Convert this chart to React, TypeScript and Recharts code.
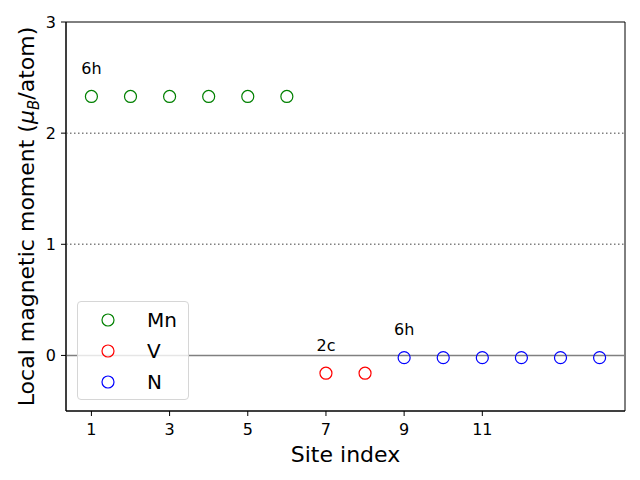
import React from "react";
import {
  ReferenceArea,
  ReferenceLine,
  Scatter,
  ScatterChart,
  XAxis,
  YAxis,
} from "recharts";

// site indices and local moments (mu_B/atom)
const mnSites = [1, 2, 3, 4, 5, 6];
const mnMoments = [2.33, 2.33, 2.33, 2.33, 2.33, 2.33];
const vSites = [7, 8];
const vMoments = [-0.16, -0.16];
const nSites = [9, 10, 11, 12, 13, 14];
const nMoments = [-0.02, -0.02, -0.02, -0.02, -0.02, -0.02];

// Wyckoff labels
const noteX = [1, 7, 9];
const noteY = [2.58, 0.09, 0.23];
const noteText = ["6h", "2c", "6h"];

const xTicks = [1, 3, 5, 7, 9, 11];
const yTicks = [0, 1, 2, 3];

const FONT = "DejaVu Sans";

const toPoints = (xs: number[], ys: number[]) =>
  xs.map((x, i) => ({ x, y: ys[i] }));

const series = [
  { name: "Mn", color: "#008000", data: toPoints(mnSites, mnMoments) },
  { name: "V", color: "#ff0000", data: toPoints(vSites, vMoments) },
  { name: "N", color: "#0000ff", data: toPoints(nSites, nMoments) },
];

const notes = noteX.map((x, i) => ({ x, y: noteY[i], text: noteText[i] }));

const ring = (color: string) => (props: any) => (
  <circle
    cx={props.cx}
    cy={props.cy}
    r={6}
    fill="none"
    stroke={color}
    strokeWidth={1.2}
  />
);

function LegendBox() {
  return (
    <div
      style={{
        position: "absolute",
        left: 77,
        top: 301,
        width: 112,
        height: 99,
        boxSizing: "border-box",
        border: "1px solid #d6d6d6",
        borderRadius: 4,
        background: "rgba(255,255,255,0.8)",
        fontFamily: FONT,
        fontSize: 20,
      }}
    >
      {series.map((s, i) => (
        <div
          key={s.name}
          style={{ position: "absolute", left: 0, top: 6 + i * 31, height: 24 }}
        >
          <svg
            width={20}
            height={24}
            style={{ position: "absolute", left: 20, top: 0 }}
          >
            <circle cx={10} cy={12} r={6} fill="none" stroke={s.color} strokeWidth={1.2} />
          </svg>
          <span
            style={{
              position: "absolute",
              left: 69,
              top: 0,
              lineHeight: "24px",
              color: "#000",
            }}
          >
            {s.name}
          </span>
        </div>
      ))}
    </div>
  );
}

export default function App() {
  return (
    <div
      style={{
        position: "absolute",
        left: 0,
        top: 0,
        width: 640,
        height: 480,
        background: "#fff",
      }}
    >
      <ScatterChart
        width={640}
        height={480}
        margin={{ top: 22, right: 15, bottom: 0, left: 0 }}
        style={{ fontFamily: FONT }}
      >
        <XAxis
          type="number"
          dataKey="x"
          domain={[0.35, 14.65]}
          ticks={xTicks}
          allowDataOverflow
          height={69}
          stroke="#000"
          tickSize={5}
          tickMargin={8}
          tick={{ fill: "#000", fontSize: 16 }}
          label={(p: any) => {
            const vb = p.viewBox;
            return (
              <text
                x={vb.x + vb.width / 2}
                y={462}
                textAnchor="middle"
                fontSize={22}
                fill="#000"
              >
                Site index
              </text>
            );
          }}
        />
        <YAxis
          type="number"
          dataKey="y"
          domain={[-0.5, 3]}
          ticks={yTicks}
          allowDataOverflow
          width={66}
          stroke="#000"
          tickSize={5}
          tickMargin={5}
          tick={{ fill: "#000", fontSize: 16 }}
          label={(p: any) => {
            const vb = p.viewBox;
            const cy = vb.y + vb.height / 2;
            return (
              <text
                x={34}
                y={cy}
                transform={`rotate(-90, 34, ${cy})`}
                textAnchor="middle"
                fontSize={22}
                fill="#000"
              >
                Local magnetic moment (
                <tspan fontStyle="italic">μ</tspan>
                <tspan fontStyle="italic" fontSize={15} dy={5}>
                  B
                </tspan>
                <tspan dy={-5}>/atom)</tspan>
              </text>
            );
          }}
        />
        <ReferenceArea
          x1={0.35}
          x2={14.65}
          y1={-0.5}
          y2={3}
          fill="none"
          stroke="#000"
          strokeWidth={1}
          fillOpacity={0}
        />
        <ReferenceLine y={0} stroke="#808080" strokeWidth={1.5} />
        <ReferenceLine y={1} stroke="#808080" strokeWidth={1.5} strokeDasharray="1.5 2.5" />
        <ReferenceLine y={2} stroke="#808080" strokeWidth={1.5} strokeDasharray="1.5 2.5" />
        {series.map((s) => (
          <Scatter
            key={s.name}
            name={s.name}
            data={s.data}
            shape={ring(s.color)}
            isAnimationActive={false}
          />
        ))}
        <Scatter
          name="notes"
          data={notes}
          isAnimationActive={false}
          shape={(p: any) => (
            <text
              x={p.cx}
              y={p.cy}
              dy="0.35em"
              textAnchor="middle"
              fontSize={16}
              fill="#000"
            >
              {p.payload.text}
            </text>
          )}
        />
      </ScatterChart>
      <LegendBox />
    </div>
  );
}
